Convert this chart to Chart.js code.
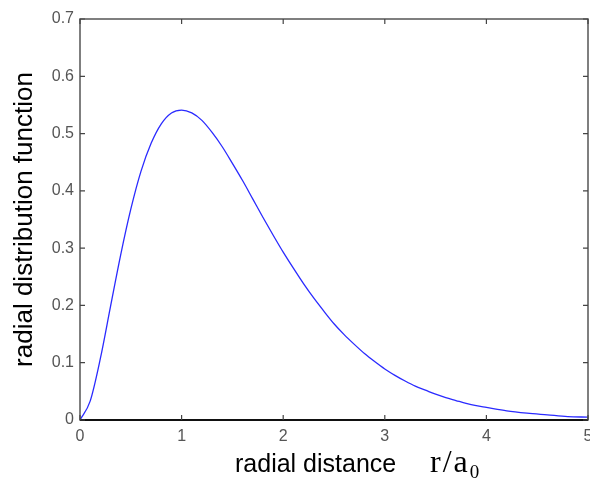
<!DOCTYPE html>
<html>
<head>
<meta charset="utf-8">
<script src="https://cdn.jsdelivr.net/npm/chart.js@4.4.0/dist/chart.umd.min.js"></script>
<style>
  html, body { margin: 0; padding: 0; background: #fff; }
  #wrap { width: 590px; height: 480px; }
</style>
</head>
<body>
<div id="wrap"><canvas id="chart"></canvas></div>
<script>
// radial distance r/a0
const rValues = [0, 0.1, 0.2, 0.3, 0.4, 0.5, 0.6, 0.7, 0.8, 0.9,
                 1.0, 1.1, 1.2, 1.3, 1.4, 1.5, 1.6, 1.7, 1.8, 1.9,
                 2.0, 2.1, 2.2, 2.3, 2.4, 2.5, 2.6, 2.7, 2.8, 2.9,
                 3.0, 3.1, 3.2, 3.3, 3.4, 3.5, 3.6, 3.7, 3.8, 3.9,
                 4.0, 4.2, 4.4, 4.6, 4.8, 5.0];
// radial distribution function
const pValues = [0, 0.033, 0.107, 0.198, 0.288, 0.368, 0.434, 0.483, 0.517, 0.536,
                 0.541, 0.536, 0.523, 0.502, 0.477, 0.448, 0.418, 0.386, 0.354, 0.323,
                 0.293, 0.265, 0.238, 0.213, 0.190, 0.168, 0.149, 0.132, 0.116, 0.102,
                 0.089, 0.078, 0.068, 0.059, 0.052, 0.045, 0.039, 0.034, 0.029, 0.025,
                 0.022, 0.016, 0.012, 0.009, 0.006, 0.005];

const xTicks = [0, 1, 2, 3, 4, 5];
const xTickLabels = ["0", "1", "2", "3", "4", "5"];
const yTicks = [0, 0.1, 0.2, 0.3, 0.4, 0.5, 0.6, 0.7];
const yTickLabels = ["0", "0.1", "0.2", "0.3", "0.4", "0.5", "0.6", "0.7"];

const yTitle = "radial distribution function";
const xTitle = "radial distance";
const xUnit = "r/a";
const xUnitSub = "0";

const points = rValues.map((r, i) => ({ x: r, y: pValues[i] }));

// box around the plot + inward ticks on all four sides, matlab style
const boxPlugin = {
    id: "box",
    afterDraw(chart) {
        const ctx = chart.ctx;
        const a = chart.chartArea;
        const xs = chart.scales.x, ys = chart.scales.y;
        ctx.save();
        ctx.strokeStyle = "#555";
        ctx.lineWidth = 1.5;
        ctx.strokeRect(a.left, a.top, a.right - a.left, a.bottom - a.top);
        ctx.strokeStyle = "#111";
        ctx.lineWidth = 2;
        ctx.beginPath();
        ctx.moveTo(a.left, a.bottom);
        ctx.lineTo(a.right, a.bottom);
        ctx.stroke();

        ctx.strokeStyle = "#444";
        ctx.lineWidth = 1.2;
        ctx.beginPath();
        xTicks.forEach(v => {
            const px = xs.getPixelForValue(v);
            ctx.moveTo(px, a.bottom); ctx.lineTo(px, a.bottom - 5);
            ctx.moveTo(px, a.top); ctx.lineTo(px, a.top + 5);
        });
        yTicks.forEach(v => {
            const py = ys.getPixelForValue(v);
            ctx.moveTo(a.left, py); ctx.lineTo(a.left + 5, py);
            ctx.moveTo(a.right, py); ctx.lineTo(a.right - 5, py);
        });
        ctx.stroke();

        // x axis title, sans words + serif unit with subscript
        ctx.fillStyle = "#000";
        ctx.textBaseline = "alphabetic";
        ctx.textAlign = "left";
        ctx.font = "25px 'Liberation Sans', Arial, sans-serif";
        ctx.fillText(xTitle, 235, 472);
        ctx.font = "32px 'Liberation Serif', 'Times New Roman', serif";
        ctx.letterSpacing = "2px";
        ctx.fillText(xUnit, 430, 472);
        const w = ctx.measureText(xUnit).width;
        ctx.letterSpacing = "0px";
        ctx.font = "19px 'Liberation Serif', 'Times New Roman', serif";
        ctx.fillText(xUnitSub, 430 + w, 478);
        ctx.restore();
    }
};

new Chart(document.getElementById("chart"), {
    type: "line",
    data: {
        datasets: [{
            data: points,
            borderColor: "#2a2aff",
            borderWidth: 1.3,
            pointRadius: 0,
            fill: false,
            tension: 0.4,
            cubicInterpolationMode: "monotone"
        }]
    },
    options: {
        responsive: true,
        maintainAspectRatio: false,
        animation: false,
        layout: { padding: { top: 19, right: 2, left: 0, bottom: 0 } },
        plugins: { legend: { display: false }, tooltip: { enabled: false } },
        scales: {
            x: {
                type: "linear",
                min: 0,
                max: 5,
                afterBuildTicks: s => { s.ticks = xTicks.map(v => ({ value: v })); },
                afterFit: s => { s.height = 60; s.paddingLeft = 0; s.paddingRight = 0; },
                grid: { drawOnChartArea: false, drawTicks: false },
                border: { display: false },
                ticks: {
                    autoSkip: false,
                    maxRotation: 0,
                    padding: 7,
                    color: "#555",
                    font: { family: "'Liberation Sans', Arial, sans-serif", size: 16 },
                    callback: (v, i) => xTickLabels[i]
                }
            },
            y: {
                min: 0,
                max: 0.7,
                afterBuildTicks: s => { s.ticks = yTicks.map(v => ({ value: v })); },
                afterFit: s => { s.width = 80; s.paddingTop = 0; s.paddingBottom = 0; },
                grid: { drawOnChartArea: false, drawTicks: false },
                border: { display: false },
                ticks: {
                    autoSkip: false,
                    padding: 6,
                    color: "#555",
                    font: { family: "'Liberation Sans', Arial, sans-serif", size: 16 },
                    callback: (v, i) => yTickLabels[i]
                },
                title: {
                    display: true,
                    text: yTitle,
                    color: "#000",
                    padding: { top: 9, bottom: 0 },
                    font: { family: "'Liberation Sans', Arial, sans-serif", size: 26 }
                }
            }
        }
    },
    plugins: [boxPlugin]
});
</script>
</body>
</html>
